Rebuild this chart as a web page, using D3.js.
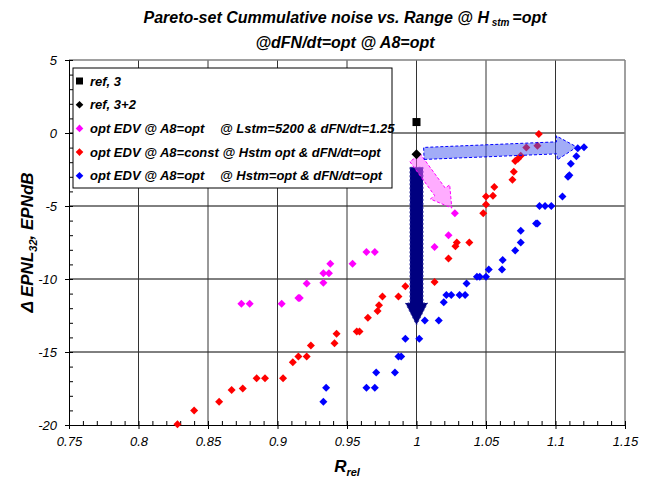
<!DOCTYPE html>
<html>
<head>
<meta charset="utf-8">
<script src="https://cdn.jsdelivr.net/npm/d3@7"></script>
<style>
  body { margin: 0; background: #fff; }
  text { font-family: Arial, "Liberation Sans", sans-serif; }
</style>
</head>
<body>
<div id="chart"></div>
<script>
// Dados
const refSquare = [[1.0, 0.75]];
const refDiamond = [[1.0, -1.45]];

// opt EDV @ A8=opt @ Lstm=5200 & dFN/dt=1.25
const magentaPts = [
  [1.0276, -5.5], [1.023, -7.0], [1.013, -7.8],
  [0.964, -8.15], [0.970, -8.15], [0.938, -8.95], [0.954, -8.95],
  [0.933, -9.6], [0.937, -9.6], [0.933, -10.25], [0.921, -10.3],
  [0.915, -11.3], [0.916, -11.3], [0.903, -11.7], [0.874, -11.7], [0.880, -11.7]
];

// opt EDV @ A8=const @Hstm opt & dFN/dt=opt
const redPts = [
  [1.088, -0.07], [1.079, -1.0], [1.087, -0.87],
  [1.075, -1.55], [1.073, -1.76], [1.071, -1.92], [1.070, -2.65], [1.069, -3.2],
  [1.056, -3.7], [1.055, -4.3], [1.050, -4.35], [1.050, -4.9], [1.048, -5.5],
  [1.038, -7.5], [1.029, -7.5], [1.028, -7.75], [1.023, -8.6], [1.013, -10.2],
  [0.992, -10.5], [0.987, -11.2], [0.9755, -11.2], [0.973, -11.8], [0.972, -12.2],
  [0.965, -12.65], [0.957, -13.6], [0.959, -13.6], [0.9425, -13.75], [0.941, -14.4],
  [0.924, -14.55], [0.915, -15.3], [0.921, -15.3], [0.911, -15.7], [0.904, -16.8],
  [0.885, -16.8], [0.891, -16.8], [0.875, -17.5], [0.867, -17.6], [0.858, -18.4],
  [0.840, -19.0], [0.828, -19.95]
];

// opt EDV @ A8=opt @Hstm=opt & dFN/dt=opt
const bluePts = [
  [1.1205, -0.98], [1.116, -1.05], [1.115, -1.6], [1.111, -2.1],
  [1.110, -2.9], [1.109, -3.0], [1.105, -4.35],
  [1.097, -5.0], [1.0925, -5.0], [1.0885, -5.0], [1.087, -6.2], [1.086, -6.2],
  [1.075, -6.7], [1.075, -7.5], [1.071, -8.05], [1.062, -8.7], [1.0615, -9.35],
  [1.052, -9.35], [1.050, -9.85], [1.0455, -9.85], [1.0435, -9.85], [1.036, -10.3],
  [1.035, -11.1], [1.031, -11.1], [1.025, -11.1], [1.0215, -11.1], [1.0196, -11.6],
  [1.016, -12.85], [1.006, -12.85], [1.002, -14.1], [0.992, -14.1], [0.989, -15.3],
  [0.987, -15.3], [0.9845, -16.4], [0.971, -16.4], [0.970, -17.45], [0.964, -17.45],
  [0.935, -17.45], [0.933, -18.4]
];

// Setas: [início, fim]
const arrowNavy = [[1.0, -2.35], [1.0, -13.15]];
const arrowPink = [[0.999, -1.7], [1.0254, -5.14]];
const arrowBlue = [[1.0053, -1.40], [1.1153, -0.96]];

const xTicks = [0.75, 0.8, 0.85, 0.9, 0.95, 1, 1.05, 1.1, 1.15];
const yTicks = [5, 0, -5, -10, -15, -20];
const legendLabels = [
  ["ref, 3", ""],
  ["ref, 3+2", ""],
  ["opt EDV @ A8=opt", "@ Lstm=5200 & dFN/dt=1.25"],
  ["opt EDV @ A8=const @ Hstm opt & dFN/dt=opt", ""],
  ["opt EDV @ A8=opt", "@ Hstm=opt & dFN/dt=opt"]
];

// Definições do Gráfico
const W = 652, H = 479;
const margin = { top: 60, right: 27, bottom: 54, left: 69 };
const width = W - margin.left - margin.right;
const height = H - margin.top - margin.bottom;

const root = d3.select("#chart").append("svg")
    .attr("width", W)
    .attr("height", H);

const svg = root.append("g")
    .attr("transform", `translate(${margin.left},${margin.top})`);

const x = d3.scaleLinear().domain([0.75, 1.15]).range([0, width]);
const y = d3.scaleLinear().domain([-20, 5]).range([height, 0]);

// Grade
svg.selectAll(".hgrid")
    .data(yTicks.filter(d => d > -20 && d < 5))
    .enter().append("line")
    .attr("x1", 0).attr("x2", width)
    .attr("y1", d => y(d)).attr("y2", d => y(d))
    .attr("stroke", "#000").attr("stroke-width", 1);

svg.selectAll(".vgrid")
    .data(xTicks.filter(d => d > 0.75 && d < 1.15))
    .enter().append("line")
    .attr("x1", d => x(d)).attr("x2", d => x(d))
    .attr("y1", 0).attr("y2", height)
    .attr("stroke", "#333").attr("stroke-width", 1);

// Borda superior e direita
svg.append("line").attr("x1", 0).attr("x2", width).attr("y1", 0).attr("y2", 0)
    .attr("stroke", "#808080").attr("stroke-width", 1.5);
svg.append("line").attr("x1", width).attr("x2", width).attr("y1", 0).attr("y2", height)
    .attr("stroke", "#808080").attr("stroke-width", 1.5);

// Eixos
const minorX = d3.range(0.75, 1.1501, 0.01);
const minorY = d3.range(-20, 5.001, 1);

svg.append("g")
    .attr("transform", `translate(0,${height})`)
    .call(d3.axisBottom(x).tickValues(minorX).tickSize(-4).tickFormat(""))
    .call(g => g.select(".domain").remove());

svg.append("g")
    .attr("transform", `translate(0,${height})`)
    .call(d3.axisBottom(x).tickValues(xTicks).tickSizeInner(4).tickSizeOuter(0)
        .tickPadding(8).tickFormat(d => String(+d.toFixed(2))))
    .call(g => g.selectAll("text").attr("font-size", 13).attr("font-style", "italic").attr("fill", "#000"));

svg.append("g")
    .call(d3.axisLeft(y).tickValues(minorY).tickSize(-4).tickFormat(""))
    .call(g => g.select(".domain").remove());

svg.append("g")
    .call(d3.axisLeft(y).tickValues(yTicks).tickSizeInner(4).tickSizeOuter(0)
        .tickPadding(8).tickFormat(d => String(d)))
    .call(g => g.selectAll("text").attr("font-size", 13).attr("font-style", "italic").attr("fill", "#000"));

// Marcadores
const diamond = r => `M0,${-r}L${r},0L0,${r}L${-r},0Z`;

function drawPts(data, color, r) {
  svg.append("g").selectAll("path")
    .data(data)
    .enter().append("path")
    .attr("d", diamond(r))
    .attr("transform", d => `translate(${x(d[0])},${y(d[1])})`)
    .attr("fill", color);
}
drawPts(magentaPts, "#FF00FF", 4);
drawPts(redPts, "#FF0000", 4);
drawPts(bluePts, "#0000FF", 4);

// Setas
function arrowPath(a, shaftW, headW, headL) {
  const x0 = x(a[0][0]), y0 = y(a[0][1]);
  const x1 = x(a[1][0]), y1 = y(a[1][1]);
  const len = Math.hypot(x1 - x0, y1 - y0);
  const ux = (x1 - x0) / len, uy = (y1 - y0) / len;
  const nx = -uy, ny = ux;
  const bx = x1 - ux * headL, by = y1 - uy * headL;
  const p = (px, py, s) => [px + nx * s, py + ny * s];
  const pts = [
    p(x0, y0, shaftW / 2), p(bx, by, shaftW / 2), p(bx, by, headW / 2),
    [x1, y1],
    p(bx, by, -headW / 2), p(bx, by, -shaftW / 2), p(x0, y0, -shaftW / 2)
  ];
  return "M" + pts.map(q => q.join(",")).join("L") + "Z";
}

svg.append("path")
    .attr("d", arrowPath(arrowNavy, 13, 22, 22))
    .attr("fill", "#000080")
    .attr("stroke", "#3030a0").attr("stroke-dasharray", "2,2").attr("stroke-width", 1);

svg.append("path")
    .attr("d", arrowPath(arrowPink, 13, 24, 20))
    .attr("fill", "rgba(255,90,255,0.5)")
    .attr("stroke", "#FF00FF").attr("stroke-dasharray", "3,2").attr("stroke-width", 1);

svg.append("path")
    .attr("d", arrowPath(arrowBlue, 12, 24, 20))
    .attr("fill", "rgba(70,90,240,0.5)")
    .attr("stroke", "#0000FF").attr("stroke-dasharray", "3,2").attr("stroke-width", 1);

// Referências
svg.selectAll(".refsq")
    .data(refSquare)
    .enter().append("rect")
    .attr("x", d => x(d[0]) - 4).attr("y", d => y(d[1]) - 4)
    .attr("width", 8).attr("height", 8)
    .attr("fill", "#000");

svg.selectAll(".refdia")
    .data(refDiamond)
    .enter().append("path")
    .attr("d", diamond(5))
    .attr("transform", d => `translate(${x(d[0])},${y(d[1])})`)
    .attr("fill", "#000");

// Legenda
const legend = svg.append("g").attr("transform", "translate(4,8)");
legend.append("rect")
    .attr("width", 319).attr("height", 120)
    .attr("fill", "#fff").attr("stroke", "#000").attr("stroke-width", 1);

const legendColors = ["#000", "#000", "#FF00FF", "#FF0000", "#0000FF"];
legendLabels.forEach((lab, i) => {
  const ly = 13 + i * 23.7;
  if (i === 0) {
    legend.append("rect").attr("x", 3).attr("y", ly - 3.5).attr("width", 7).attr("height", 7).attr("fill", "#000");
  } else {
    legend.append("path").attr("d", diamond(3.8))
        .attr("transform", `translate(6.5,${ly})`).attr("fill", legendColors[i]);
  }
  legend.append("text")
      .attr("x", 17).attr("y", ly + 4.5)
      .attr("font-size", 13).attr("font-weight", "bold").attr("font-style", "italic")
      .text(lab[0]);
  if (lab[1]) {
    legend.append("text")
        .attr("x", 147).attr("y", ly + 4.5)
        .attr("font-size", 13).attr("font-weight", "bold").attr("font-style", "italic")
        .text(lab[1]);
  }
});

// Título
const title = root.append("text")
    .attr("text-anchor", "middle")
    .attr("font-size", 16).attr("font-weight", "bold").attr("font-style", "italic");
const t1 = title.append("tspan").attr("x", 345).attr("y", 23);
t1.append("tspan").text("Pareto-set Cummulative noise vs. Range @ H");
t1.append("tspan").attr("font-size", 10).attr("dy", 3).text(" stm ");
t1.append("tspan").attr("dy", -3).text("=opt");
title.append("tspan").attr("x", 345).attr("y", 48).text("@dFN/dt=opt @ A8=opt");

// Rótulo eixo X
const xl = root.append("text")
    .attr("text-anchor", "middle")
    .attr("x", margin.left + width / 2).attr("y", 472)
    .attr("font-size", 17).attr("font-weight", "bold").attr("font-style", "italic");
xl.append("tspan").text("R");
xl.append("tspan").attr("font-size", 11).attr("dy", 4).text("rel");

// Rótulo eixo Y
const yl = root.append("text")
    .attr("text-anchor", "middle")
    .attr("transform", `translate(33,${margin.top + height / 2}) rotate(-90)`)
    .attr("font-size", 17).attr("font-weight", "bold").attr("font-style", "italic");
yl.append("tspan").text("\u0394 EPNL");
yl.append("tspan").attr("font-size", 11).attr("dy", 4).text("32");
yl.append("tspan").attr("dy", -4).text(", EPNdB");
</script>
</body>
</html>
